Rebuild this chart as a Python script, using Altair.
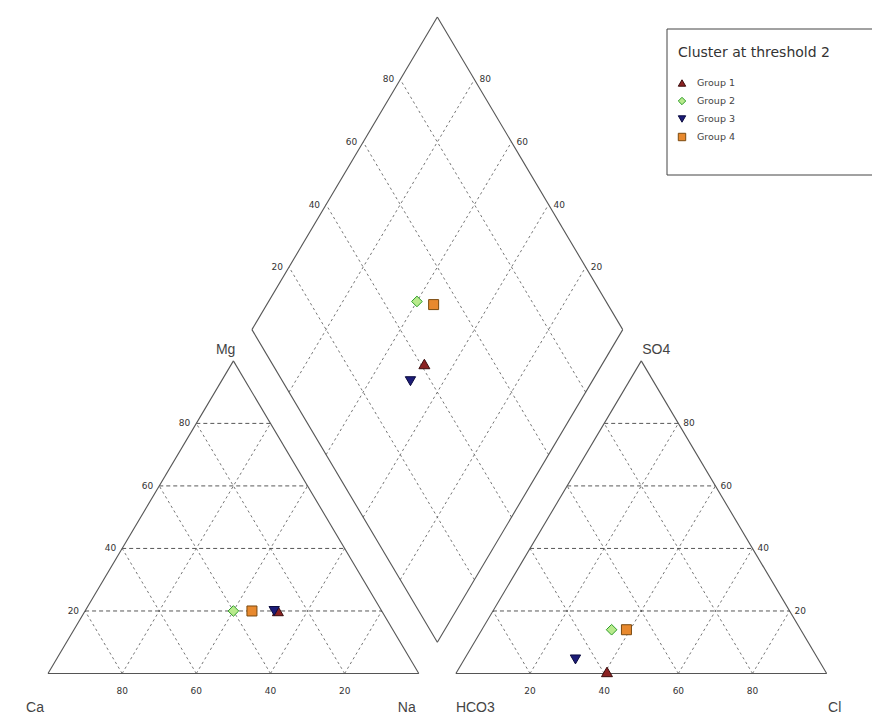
import numpy as np
import pandas as pd
import altair as alt

# ---------------- data (percent of meq) ----------------
groups = ["Group 1", "Group 2", "Group 3", "Group 4"]
ca_pct = [28, 40, 29, 35]
mg_pct = [20, 20, 20, 20]
na_pct = [52, 40, 51, 45]
hco3_pct = [59, 51, 65.5, 47]
so4_pct = [0.5, 14, 4.5, 14]
cl_pct = [40.5, 35, 30, 39]

shapes = ["triangle-up", "diamond", "triangle-down", "square"]
fills = ["#8b2222", "#b8ea8c", "#1c1c78", "#e8892e"]
strokes = ["#3b0d0d", "#2f9e2a", "#0d0d40", "#7a4a10"]
sizes = [120, 100, 120, 160]

ticks = [20, 40, 60, 80]
legend_title = "Cluster at threshold 2"

# ---------------- geometry ----------------
h = np.sqrt(3) / 2
g = 0.1

def lt(ca, mg, na):
    return (na + 0.5 * mg, h * mg)

def rt(hco3, so4, cl):
    return (1 + g + cl + 0.5 * so4, h * so4)

B = (1 + g / 2, g * h)
L = (0.5 + g / 2, g * h + h)
R = (1.5 + g / 2, g * h + h)
T = (1 + g / 2, g * h + 2 * h)

def seg(p, q, kind):
    return {"x": p[0], "y": p[1], "x2": q[0], "y2": q[1], "kind": kind}

segs = []
for poly in [[lt(1, 0, 0), lt(0, 0, 1), lt(0, 1, 0)],
             [rt(1, 0, 0), rt(0, 0, 1), rt(0, 1, 0)],
             [B, R, T, L]]:
    for i in range(len(poly)):
        segs.append(seg(poly[i], poly[(i + 1) % len(poly)], "outline"))
for v in ticks:
    f = v / 100
    segs.append(seg(lt(1 - f, f, 0), lt(0, f, 1 - f), "h"))
    segs.append(seg(lt(f, 0, 1 - f), lt(f, 1 - f, 0), "d"))
    segs.append(seg(lt(1 - f, 0, f), lt(0, 1 - f, f), "d"))
    segs.append(seg(rt(1 - f, f, 0), rt(0, f, 1 - f), "h"))
    segs.append(seg(rt(f, 0, 1 - f), rt(f, 1 - f, 0), "d"))
    segs.append(seg(rt(1 - f, 0, f), rt(0, 1 - f, f), "d"))
    s1 = (B[0] + f * (L[0] - B[0]), B[1] + f * (L[1] - B[1]))
    segs.append(seg(s1, (s1[0] + R[0] - B[0], s1[1] + R[1] - B[1]), "d"))
    s2 = (B[0] + f * (R[0] - B[0]), B[1] + f * (R[1] - B[1]))
    segs.append(seg(s2, (s2[0] + L[0] - B[0], s2[1] + L[1] - B[1]), "d"))
seg_df = pd.DataFrame(segs)

base_lab, left_lab, right_lab = [], [], []
for v in ticks:
    f = v / 100
    p = lt(f, 0, 1 - f); base_lab.append({"x": p[0], "y": p[1], "t": str(v)})
    p = rt(1 - f, 0, f); base_lab.append({"x": p[0], "y": p[1], "t": str(v)})
    p = lt(1 - f, f, 0); left_lab.append({"x": p[0], "y": p[1], "t": str(v)})
    p = (L[0] + f * (T[0] - L[0]), L[1] + f * (T[1] - L[1])); left_lab.append({"x": p[0], "y": p[1], "t": str(v)})
    p = rt(0, f, 1 - f); right_lab.append({"x": p[0], "y": p[1], "t": str(v)})
    p = (R[0] + f * (T[0] - R[0]), R[1] + f * (T[1] - R[1])); right_lab.append({"x": p[0], "y": p[1], "t": str(v)})

rows = []
for i, grp in enumerate(groups):
    ca, mg, na = ca_pct[i] / 100, mg_pct[i] / 100, na_pct[i] / 100
    hc, so, cl = hco3_pct[i] / 100, so4_pct[i] / 100, cl_pct[i] / 100
    pc = lt(ca, mg, na)
    pa = rt(hc, so, cl)
    t = pa[0] - pc[0] - 0.5 * (pc[1] - pa[1]) / h
    pd_ = (pc[0] + 0.5 * t, pc[1] + h * t)
    for p in (pc, pa, pd_):
        rows.append({"x": p[0], "y": p[1], "group": grp})
pts = pd.DataFrame(rows)

# ---------------- scales ----------------
W, H = 864, 706
SX, SY = 370.8, 361.0
X0, Y0 = 48 - 8, 673.5 - 8
xdom = [(0 - X0) / SX, (W - X0) / SX]
ydom = [(Y0 - H) / SY, Y0 / SY]
xs = alt.Scale(domain=xdom, nice=False, zero=False)
ys = alt.Scale(domain=ydom, nice=False, zero=False)
FONT = "Liberation Sans"
LFONT = "DejaVu Sans"

def X(f="x"):
    return alt.X(f + ":Q", scale=xs, axis=None)

def Y(f="y"):
    return alt.Y(f + ":Q", scale=ys, axis=None)

one = pd.DataFrame({"a": [0]})

outline = alt.Chart(seg_df[seg_df.kind == "outline"]).mark_rule(
    color="#555", strokeWidth=1.1
).encode(x=X(), y=Y(), x2="x2:Q", y2="y2:Q")

hgrid = alt.Chart(seg_df[seg_df.kind == "h"]).mark_rule(
    color="#444", strokeWidth=0.9, strokeDash=[4, 3]
).encode(x=X(), y=Y(), x2="x2:Q", y2="y2:Q")

dgrid = alt.Chart(seg_df[seg_df.kind == "d"]).mark_rule(
    color="#666", strokeWidth=0.9, strokeDash=[2.5, 3]
).encode(x=X(), y=Y(), x2="x2:Q", y2="y2:Q")

tick_style = dict(font=LFONT, fontSize=9, color="#333", baseline="middle")
base_t = alt.Chart(pd.DataFrame(base_lab)).mark_text(align="center", dy=17, **tick_style).encode(
    x=X(), y=Y(), text="t:N")
left_t = alt.Chart(pd.DataFrame(left_lab)).mark_text(align="right", dx=-6, **tick_style).encode(
    x=X(), y=Y(), text="t:N")
right_t = alt.Chart(pd.DataFrame(right_lab)).mark_text(align="left", dx=5, **tick_style).encode(
    x=X(), y=Y(), text="t:N")

name_style = dict(font=FONT, fontSize=14, color="#444", baseline="middle")
def name(txt, p, align, dx, dy):
    return alt.Chart(pd.DataFrame({"x": [p[0]], "y": [p[1]], "t": [txt]})).mark_text(
        align=align, dx=dx, dy=dy, **name_style).encode(x=X(), y=Y(), text="t:N")

names = [
    name("Ca", lt(1, 0, 0), "center", -13, 34),
    name("Na", lt(0, 0, 1), "center", -12, 34),
    name("Mg", lt(0, 1, 0), "right", 2, -11),
    name("HCO3", rt(1, 0, 0), "left", 0, 34),
    name("Cl", rt(0, 0, 1), "center", 8, 34),
    name("SO4", rt(0, 1, 0), "left", 1, -11),
]

points = alt.Chart(pts).mark_point(filled=True, opacity=1, strokeWidth=1).encode(
    x=X(), y=Y(),
    shape=alt.Shape("group:N", scale=alt.Scale(domain=groups, range=shapes), legend=None),
    fill=alt.Fill("group:N", scale=alt.Scale(domain=groups, range=fills), legend=None),
    stroke=alt.Stroke("group:N", scale=alt.Scale(domain=groups, range=strokes), legend=None),
    size=alt.Size("group:N", scale=alt.Scale(domain=groups, range=sizes), legend=None),
)

# ---------------- legend (drawn box) ----------------
LX, LY = 659, 21          # box top-left (plot coords)
legend_layers = [
    alt.Chart(one).mark_rect(fill="white", stroke="#444", strokeWidth=1).encode(
        x=alt.value(LX), x2=alt.value(LX + 210), y=alt.value(LY), y2=alt.value(LY + 146)),
    alt.Chart(pd.DataFrame({"t": [legend_title]})).mark_text(
        align="left", baseline="middle", font=LFONT, fontSize=14, color="#333").encode(
        x=alt.value(LX + 11), y=alt.value(LY + 24), text="t:N"),
]
for i, grp in enumerate(groups):
    yy = LY + 54 + 18 * i
    legend_layers.append(
        alt.Chart(pd.DataFrame({"group": [grp]})).mark_point(
            filled=True, opacity=1, strokeWidth=1, shape=shapes[i], fill=fills[i],
            stroke=strokes[i], size=55).encode(x=alt.value(LX + 15), y=alt.value(yy)))
    legend_layers.append(
        alt.Chart(pd.DataFrame({"group": [grp]})).mark_text(
            align="left", baseline="middle", font=LFONT, fontSize=9.5, color="#444").encode(
            x=alt.value(LX + 30), y=alt.value(yy), text="group:N"))

chart = alt.layer(dgrid, hgrid, outline, base_t, left_t, right_t, *names, points,
                  *legend_layers).properties(
    width=W, height=H, padding=0, autosize=alt.AutoSizeParams(type="none")
).configure_view(stroke=None)

chart.save("out.html", embed_options={"renderer": "svg", "actions": False})
